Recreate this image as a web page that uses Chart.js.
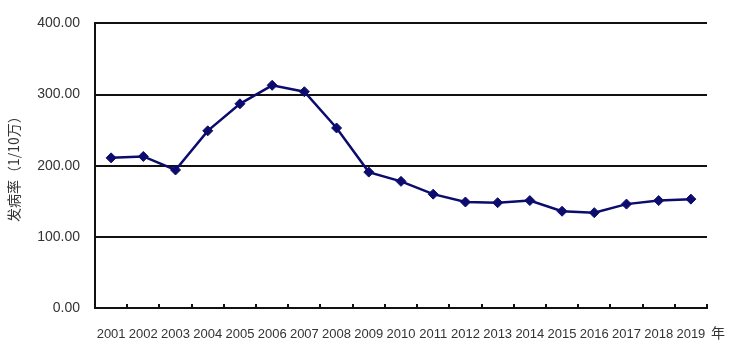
<!DOCTYPE html>
<html>
<head>
<meta charset="utf-8">
<script src="https://cdn.jsdelivr.net/npm/chart.js@4/dist/chart.umd.min.js"></script>
<style>
  html, body { margin: 0; padding: 0; background: #fff; }
  #wrap { width: 744px; height: 352px; }
</style>
</head>
<body>
<div id="wrap"><canvas id="c" width="744" height="352"></canvas></div>
<script>
const years = ['2001','2002','2003','2004','2005','2006','2007','2008','2009','2010','2011','2012','2013','2014','2015','2016','2017','2018','2019'];
const incidence = [211, 213, 194, 249, 287, 313, 304, 253, 191, 178, 160, 149, 148, 151, 136, 134, 146, 151, 153];
const yTicks = [0, 100, 200, 300, 400];
const yTitle = '发病率（1/10万）';
const xUnit = '年';

const extras = {
  id: 'extras',
  afterDraw(chart) {
    const ctx = chart.ctx;
    const xs = chart.scales.x;
    const area = chart.chartArea;
    const step = xs.getPixelForValue(1) - xs.getPixelForValue(0);
    ctx.save();
    ctx.strokeStyle = '#111';
    ctx.lineWidth = 2;
    for (let i = 0; i < years.length; i++) {
      const px = Math.round(xs.getPixelForValue(i) + step / 2);
      ctx.beginPath();
      ctx.moveTo(px, area.bottom);
      ctx.lineTo(px, area.bottom - 4);
      ctx.stroke();
    }
    ctx.fillStyle = '#333';
    ctx.font = '14px "Noto Sans CJK SC"';
    ctx.textAlign = 'left';
    ctx.textBaseline = 'middle';
    ctx.fillText(xUnit, area.right + 4, 333);
    ctx.restore();
  }
};

new Chart(document.getElementById('c'), {
  type: 'line',
  data: {
    labels: years,
    datasets: [{
      data: incidence,
      borderColor: '#0c0c6e',
      backgroundColor: '#0c0c6e',
      borderWidth: 2.5,
      pointStyle: 'rectRot',
      pointRadius: 5,
      pointBorderWidth: 1,
      tension: 0
    }]
  },
  options: {
    responsive: false,
    animation: false,
    devicePixelRatio: 1,
    layout: { padding: { left: 0, right: 37, top: 20, bottom: 0 } },
    plugins: { legend: { display: false }, tooltip: { enabled: false } },
    scales: {
      x: {
        offset: true,
        grid: { display: false },
        border: { display: true, color: '#111', width: 2 },
        ticks: {
          color: '#333',
          font: { family: '"Liberation Sans", Arial, sans-serif', size: 13 },
          maxRotation: 0,
          autoSkip: false,
          padding: 11
        },
        afterFit(s) { s.height = 44; }
      },
      y: {
        min: 0,
        max: 400,
        afterBuildTicks(s) { s.ticks = yTicks.map(v => ({ value: v })); },
        grid: { color: '#111', lineWidth: 2, drawTicks: false },
        border: { display: true, color: '#111', width: 2 },
        ticks: {
          color: '#333',
          padding: 15,
          font: { family: '"Liberation Sans", Arial, sans-serif', size: 14 },
          callback: v => Number(v).toFixed(2)
        },
        title: {
          display: true,
          text: yTitle,
          color: '#333',
          font: { family: '"Noto Sans CJK SC", sans-serif', size: 14 },
          padding: { top: 5, bottom: 0 }
        },
        afterFit(s) { s.width = 95; }
      }
    }
  },
  plugins: [extras]
});
</script>
</body>
</html>
